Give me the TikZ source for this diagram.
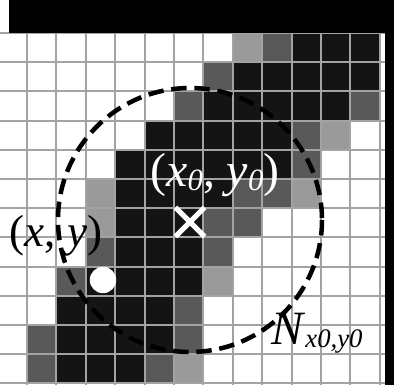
\documentclass[tikz,border=0pt]{standalone}
\usepackage{fontspec}
\setmainfont{Liberation Serif}
\usetikzlibrary{shapes.misc}
\definecolor{cellB}{HTML}{141414}
\definecolor{cellD}{HTML}{595959}
\definecolor{cellL}{HTML}{9A9A9A}
\definecolor{cellW}{HTML}{FFFFFF}
\definecolor{gridgrey}{HTML}{A3A3A3}
\tikzset{
  cell/.style={fill=cell#1},
  gridln/.style={draw=gridgrey, line width=1.5pt},
  ring/.style={draw=black, line width=3.2pt, dash pattern=on 11pt off 5.5pt},
  xmark/.style={cross out, draw=white, line width=3.6pt, minimum size=0.6cm, inner sep=0pt},
  dot/.style={circle, fill=white, minimum size=0.66cm, inner sep=0pt},
  lbl/.style={inner sep=0pt, font=\fontsize{34pt}{38pt}\selectfont},
}
\newcommand{\lowsub}[2]{\raisebox{-#1}{\fontsize{22pt}{24pt}\selectfont\textit{#2}}}

\begin{document}
\begin{tikzpicture}[x=0.025cm, y=-0.025cm]
  \useasboundingbox (0,0) rectangle (394,385);
  \begin{scope}
    \clip (0,0) rectangle (394,385);
    % pixel map, one row of cells per entry
    \foreach \cells [count=\r from 0] in {
      {W,W,W,W,W,W,W,W,L,D,B,B,B},
      {W,W,W,W,W,W,W,D,B,B,B,B,B},
      {W,W,W,W,W,W,D,B,B,B,B,B,D},
      {W,W,W,W,W,B,B,B,B,B,D,L,W},
      {W,W,W,W,B,B,B,B,B,B,D,W,W},
      {W,W,W,L,B,B,B,B,D,D,L,W,W},
      {W,W,W,L,B,B,B,D,D,W,W,W,W},
      {W,W,W,D,B,B,B,D,W,W,W,W,W},
      {W,W,D,B,B,B,B,L,W,W,W,W,W},
      {W,W,B,B,B,B,D,W,W,W,W,W,W},
      {W,D,B,B,B,B,D,W,W,W,W,W,W},
      {W,D,B,B,B,D,L,W,W,W,W,W,W}}{
      \foreach \c [count=\k from 0] in \cells
        \fill[cell=\c] ({-2.4+\k*29.4},{33+\r*29.2}) rectangle +(29.4,29.2);
    }
    \foreach \k in {1,...,13}
      \draw[gridln] ({-2.4+\k*29.4},33) -- ({-2.4+\k*29.4},385);
    \foreach \k in {0,...,12}
      \draw[gridln] (0,{33+\k*29.2}) -- (386,{33+\k*29.2});
    \fill[black] (9,0) rectangle (394,33);
    \fill[black] (385,0) rectangle (394,385);
  \end{scope}

  \coordinate (ctr) at (190,220);
  \draw[ring] (ctr) circle [radius=132];
  \node[xmark] (centre) at (190,222) {};
  \node[dot] (pt) at (103,280) {};

  \node[lbl, text=white, anchor=base] (clbl) at (215,187)
    {(\textit{x}\lowsub{0.08em}{0}, \textit{y}\lowsub{0.08em}{0})};
  \node[lbl, anchor=base, font=\fontsize{32pt}{36pt}\selectfont] (plbl) at (56,247)
    {(\textit{x}, \textit{y})};
  \node[lbl, anchor=base west] (nlbl) at (271,345)
    {\textit{N}\lowsub{0.06em}{\fontsize{19pt}{21pt}\selectfont x0,y0}};
\end{tikzpicture}
\end{document}
